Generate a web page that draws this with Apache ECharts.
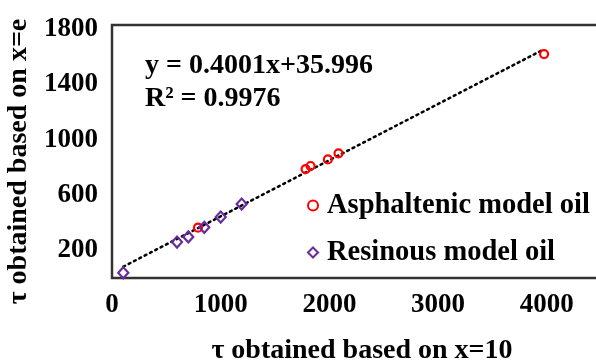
<!DOCTYPE html>
<html><head><meta charset="utf-8">
<script src="https://cdn.jsdelivr.net/npm/echarts@6/dist/echarts.min.js"></script>
<style>html,body{margin:0;padding:0;background:#fff}#c{width:596px;height:364px}</style>
</head><body><div id="c"></div>
<script>
// Data
const asphaltenicX = [791, 1781, 1827, 1986, 2084, 3975];
const asphaltenicY = [364, 788, 810, 858, 902, 1620];
const resinousX = [104, 598, 702, 849, 1000, 1193];
const resinousY = [38, 260, 297, 367, 441, 535];
const trendX = [104, 3951];
const trendY = [82, 1645];
const yTickLabels = [200, 600, 1000, 1400, 1800];
const xTickLabels = [0, 1000, 2000, 3000, 4000];
const seriesNames = ['Asphaltenic model oil', 'Resinous model oil'];
const equationText = 'y = 0.4001x+35.996';
const r2Text = 'R² = 0.9976';
const xTitle = 'τ obtained based on x=10';
const yTitle = 'τ obtained based on x=e';

const zip = (a, b) => a.map((v, i) => [v, b[i]]);
const FONT = 'Liberation Serif';

const chart = echarts.init(document.getElementById('c'), null, {renderer: 'canvas'});
chart.setOption({
  animation: false,
  backgroundColor: '#fff',
  grid: {
    left: 112, top: 25, width: 500, height: 253,
    show: true, borderColor: '#333', borderWidth: 2.5,
    outerBoundsMode: 'none'
  },
  xAxis: {
    type: 'value', min: 0, max: 4600, interval: 1000,
    axisLine: {show: false}, axisTick: {show: false}, splitLine: {show: false},
    axisLabel: {
      margin: 14, color: '#000', fontFamily: FONT, fontWeight: 'bold', fontSize: 27,
      formatter: v => xTickLabels.includes(v) ? String(v) : ''
    },
    name: xTitle, nameLocation: 'middle', nameGap: 59,
    nameTextStyle: {color: '#000', fontFamily: FONT, fontWeight: 'bold', fontSize: 28}
  },
  yAxis: {
    type: 'value', min: 0, max: 1830, interval: 200,
    axisLine: {show: false}, axisTick: {show: false}, splitLine: {show: false},
    axisLabel: {
      margin: 14, color: '#000', fontFamily: FONT, fontWeight: 'bold', fontSize: 27,
      formatter: v => yTickLabels.includes(v) ? String(v) : ''
    },
    name: yTitle, nameLocation: 'middle', nameGap: 73,
    nameTextStyle: {color: '#000', fontFamily: FONT, fontWeight: 'bold', fontSize: 28, padding: [0, 20, 0, 0]}
  },
  legend: {
    orient: 'vertical', left: 307, top: 191, itemGap: 18, padding: 0,
    itemWidth: 10, itemHeight: 10,
    data: seriesNames,
    textStyle: {color: '#000', fontFamily: FONT, fontWeight: 'bold', fontSize: 28.5, lineHeight: 28, padding: [0, 0, 0, 4]}
  },
  graphic: [
    {type: 'text', left: 145, top: 52, style: {text: equationText, fill: '#000', font: 'bold 28px "Liberation Serif"'}},
    {type: 'text', left: 145, top: 85, style: {text: r2Text, fill: '#000', font: 'bold 28px "Liberation Serif"'}}
  ],
  series: [
    {
      type: 'line', name: 'trend', data: zip(trendX, trendY), showSymbol: false, symbol: 'none',
      lineStyle: {color: '#000', width: 2.5, type: [2, 4], cap: 'round'}, z: 1, silent: true
    },
    {
      type: 'scatter', name: seriesNames[0], data: zip(asphaltenicX, asphaltenicY),
      symbol: 'circle', symbolSize: 8,
      itemStyle: {color: 'rgba(255,255,255,0)', borderColor: '#ff0000', borderWidth: 2.2, opacity: 1}, z: 3
    },
    {
      type: 'scatter', name: seriesNames[1], data: zip(resinousX, resinousY),
      symbol: 'diamond', symbolSize: [10, 11],
      itemStyle: {color: 'rgba(255,255,255,0)', borderColor: '#6a2c9c', borderWidth: 2.2, opacity: 1}, z: 3
    }
  ]
});
</script></body></html>
